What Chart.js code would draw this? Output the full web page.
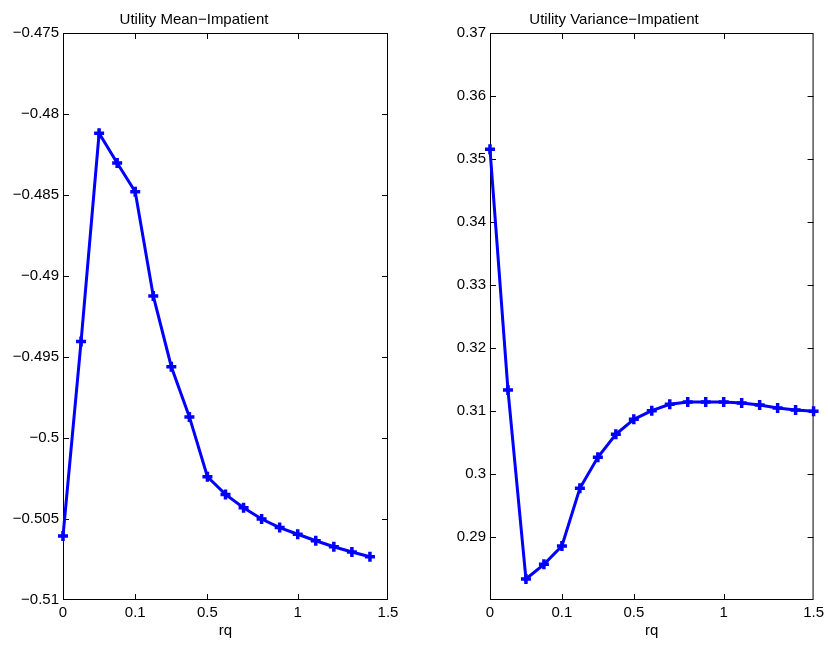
<!DOCTYPE html>
<html>
<head>
<meta charset="utf-8">
<script src="https://cdn.jsdelivr.net/npm/chart.js@4.4.1/dist/chart.umd.min.js"></script>
<style>
  html, body { margin: 0; padding: 0; background: #fff; }
  #wrap { position: relative; width: 828px; height: 645px; }
  .box { position: absolute; top: 0; width: 414px; height: 645px; }
</style>
</head>
<body>
<div id="wrap">
  <div class="box" style="left:0"><canvas id="chart1"></canvas></div>
  <div class="box" style="left:414px"><canvas id="chart2"></canvas></div>
</div>
<script>
// x axis is plotted by point index, labelled with rq values at a few spots
const tickPositions = [0, 4, 8, 13, 18];
const tickLabels = ['0', '0.1', '0.5', '1', '1.5'];

const meanValues = [-0.50605, -0.49405, -0.48119, -0.48302, -0.48480, -0.49123, -0.49560, -0.49870, -0.50239,
  -0.50348, -0.50430, -0.50500, -0.50553, -0.50594, -0.50634, -0.50671, -0.50704, -0.50733];
const varianceValues = [0.35154, 0.31333, 0.28333, 0.28566, 0.28857, 0.29773, 0.30265, 0.30630, 0.30868, 0.31005,
  0.31106, 0.31143, 0.31143, 0.31143, 0.31127, 0.31095, 0.31048, 0.31016, 0.30995];

Chart.defaults.font.family = '"Liberation Sans", Arial, Helvetica, sans-serif';
Chart.defaults.font.size = 15;
Chart.defaults.color = '#000';

const fmtNum = (v) => String(Number(v.toFixed(4))).replace('-', '\u2212');

// MATLAB-like box with inward tick marks on all four sides
const framePlugin = {
  id: 'frame',
  beforeDatasetsDraw(chart) {
    const { ctx, chartArea: a, scales: { x, y } } = chart;
    const len = 6;
    ctx.save();
    ctx.strokeStyle = '#000';
    ctx.lineWidth = 1;
    ctx.strokeRect(a.left + 0.5, a.top + 0.5, a.right - a.left - 1, a.bottom - a.top - 1);
    ctx.beginPath();
    x.ticks.forEach((t) => {
      const px = Math.round(x.getPixelForValue(t.value)) + 0.5;
      if (px <= a.left + 1 || px >= a.right - 1) return;
      ctx.moveTo(px, a.bottom); ctx.lineTo(px, a.bottom - len);
      ctx.moveTo(px, a.top); ctx.lineTo(px, a.top + len);
    });
    y.ticks.forEach((t) => {
      const py = Math.round(y.getPixelForValue(t.value)) + 0.5;
      if (py <= a.top + 1 || py >= a.bottom - 1) return;
      ctx.moveTo(a.left, py); ctx.lineTo(a.left + len, py);
      ctx.moveTo(a.right, py); ctx.lineTo(a.right - len, py);
    });
    ctx.stroke();
    ctx.restore();
  }
};

function makeChart(id, title, values, yOpts, axisWidth, padRight) {
  return new Chart(document.getElementById(id), {
    type: 'line',
    data: {
      datasets: [{
        data: values.map((v, i) => ({ x: i, y: v })),
        borderColor: '#0000ff',
        backgroundColor: '#0000ff',
        borderWidth: 3,
        pointStyle: 'cross',
        pointRadius: 5,
        pointBorderWidth: 3.5,
        pointBorderColor: '#0000ff',
        tension: 0,
        clip: false
      }]
    },
    options: {
      responsive: true,
      maintainAspectRatio: false,
      animation: false,
      layout: { padding: { left: 0, right: padRight, top: 0, bottom: 0 } },
      plugins: {
        legend: { display: false },
        tooltip: { enabled: false },
        title: {
          display: true,
          text: title,
          color: '#000',
          font: { size: 15, weight: 'normal' },
          padding: { top: 11, bottom: 4 }
        }
      },
      scales: {
        x: {
          type: 'linear',
          min: 0,
          max: 18,
          grid: { display: false, drawTicks: false },
          border: { display: false },
          afterBuildTicks: (s) => { s.ticks = tickPositions.map((v) => ({ value: v })); },
          afterFit: (s) => { s.height = 45; },
          ticks: {
            padding: 4,
            maxRotation: 0,
            autoSkip: false,
            callback: (v) => tickLabels[tickPositions.indexOf(v)]
          },
          title: { display: true, text: 'rq', font: { size: 15 }, padding: { top: 0, bottom: 5 } }
        },
        y: {
          min: yOpts.min,
          max: yOpts.max,
          grid: { display: false, drawTicks: false },
          border: { display: false },
          afterBuildTicks: (s) => { s.ticks = yOpts.ticks.map((v) => ({ value: v })); },
          afterFit: (s) => { s.width = axisWidth; },
          ticks: { padding: 4, autoSkip: false, callback: (v) => fmtNum(v) }
        }
      }
    },
    plugins: [framePlugin]
  });
}

const meanTicks = [-0.51, -0.505, -0.5, -0.495, -0.49, -0.485, -0.48, -0.475];
const varianceTicks = [0.29, 0.30, 0.31, 0.32, 0.33, 0.34, 0.35, 0.36, 0.37];

makeChart('chart1', 'Utility Mean\u2212Impatient', meanValues,
  { min: -0.51, max: -0.475, ticks: meanTicks }, 63, 26);
makeChart('chart2', 'Utility Variance\u2212Impatient', varianceValues,
  { min: 0.28, max: 0.37, ticks: varianceTicks }, 76, 14);
</script>
</body>
</html>
